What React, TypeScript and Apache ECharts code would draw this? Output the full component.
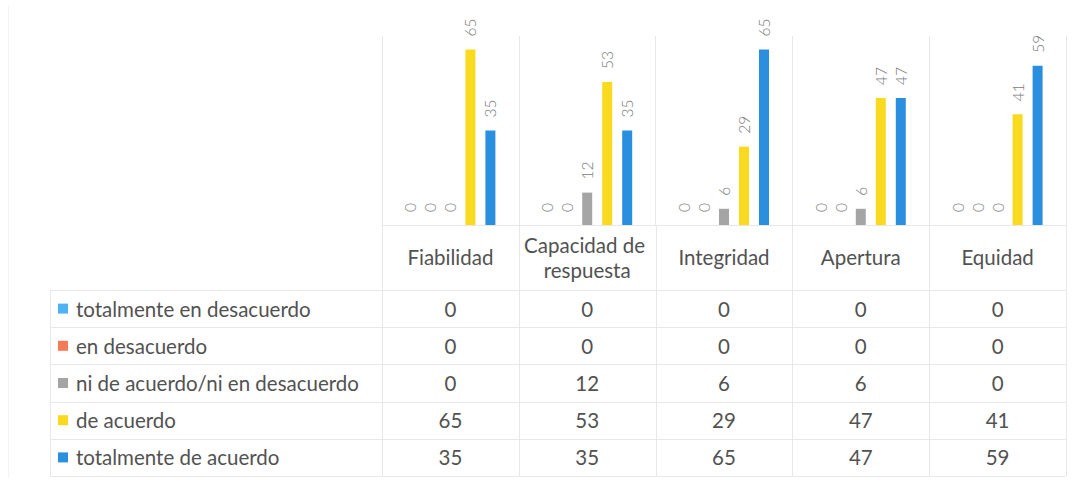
import React, { useEffect, useRef } from "react";
import * as echarts from "echarts";

const categories = ["Fiabilidad", "Capacidad de respuesta", "Integridad", "Apertura", "Equidad"];
const seriesNames = [
  "totalmente en desacuerdo",
  "en desacuerdo",
  "ni de acuerdo/ni en desacuerdo",
  "de acuerdo",
  "totalmente de acuerdo",
];
const totalmenteEnDesacuerdo = [0, 0, 0, 0, 0];
const enDesacuerdo = [0, 0, 0, 0, 0];
const niDeAcuerdoNiEnDesacuerdo = [0, 12, 6, 6, 0];
const deAcuerdo = [65, 53, 29, 47, 41];
const totalmenteDeAcuerdo = [35, 35, 65, 47, 59];
const seriesValues = [
  totalmenteEnDesacuerdo,
  enDesacuerdo,
  niDeAcuerdoNiEnDesacuerdo,
  deAcuerdo,
  totalmenteDeAcuerdo,
];
const seriesColors = ["#4DB3F2", "#F47B57", "#A5A5A5", "#F9DA1E", "#2B8FE0"];

const FONT = "Lato, 'Open Sans', sans-serif";
const TEXT = "#525252";
const LINE = "#e8e8e8";

const GRID_LEFT = 382;
const GRID_RIGHT_X = 1066;
const BASE_Y = 225;
const HEADER_BOTTOM = 290;
const ROW_H = 37.2;
const TABLE_LEFT = 50;

export default function App() {
  const ref = useRef<HTMLDivElement>(null);
  useEffect(() => {
    if (!ref.current) return;
    const chart = echarts.init(ref.current, null, { renderer: "svg" });
    chart.setOption({
      animation: false,
      backgroundColor: "#ffffff",
      grid: { left: GRID_LEFT, right: 1078 - GRID_RIGHT_X, top: 36, bottom: 483 - BASE_Y },
      xAxis: {
        type: "category",
        data: categories,
        axisLine: { show: true, lineStyle: { color: LINE } },
        axisTick: { show: false },
        splitLine: { show: true, lineStyle: { color: LINE } },
        axisLabel: {
          show: true,
          interval: 0,
          fontFamily: FONT,
          fontSize: 20.5,
          color: TEXT,
          width: 130,
          overflow: "break",
          lineHeight: 25,
          verticalAlign: "middle",
          margin: 32,
        },
      },
      yAxis: {
        type: "value",
        min: 0,
        max: 70,
        show: false,
        splitLine: { show: false },
      },
      series: seriesNames.map((name, i) => ({
        name,
        type: "bar",
        data: seriesValues[i],
        barWidth: 10,
        barGap: "100%",
        itemStyle: { color: seriesColors[i] },
        label: {
          show: true,
          position: "top",
          rotate: 90,
          align: "left",
          verticalAlign: "middle",
          distance: 13,
          fontFamily: FONT,
          fontWeight: 300,
          fontSize: 15.5,
          color: "#7a7a7a",
        },
      })),
    });

    const xs = categories.map((_, i) => chart.convertToPixel({ xAxisIndex: 0 }, i) as number);
    const colW = (GRID_RIGHT_X - GRID_LEFT) / categories.length;
    const graphics: any[] = [];
    for (let i = 0; i <= categories.length; i++) {
      const x = Math.round(GRID_LEFT + i * colW) + 0.5;
      graphics.push({
        type: "line",
        shape: { x1: x, y1: BASE_Y, x2: x, y2: HEADER_BOTTOM + ROW_H * seriesNames.length },
        style: { stroke: LINE, lineWidth: 1 },
        silent: true,
      });
    }
    graphics.push({
      type: "line",
      shape: { x1: TABLE_LEFT + 0.5, y1: HEADER_BOTTOM, x2: TABLE_LEFT + 0.5, y2: HEADER_BOTTOM + ROW_H * seriesNames.length },
      style: { stroke: LINE, lineWidth: 1 },
      silent: true,
    });
    graphics.push({
      type: "line",
      shape: { x1: 8.5, y1: 6, x2: 8.5, y2: 478 },
      style: { stroke: "#f3f3f3", lineWidth: 1 },
      silent: true,
    });
    for (let r = 0; r <= seriesNames.length; r++) {
      const y = Math.round(HEADER_BOTTOM + r * ROW_H) + 0.5;
      graphics.push({
        type: "line",
        shape: { x1: TABLE_LEFT, y1: y, x2: GRID_RIGHT_X, y2: y },
        style: { stroke: LINE, lineWidth: 1 },
        silent: true,
      });
    }
    seriesNames.forEach((name, r) => {
      const cy = HEADER_BOTTOM + (r + 0.5) * ROW_H;
      graphics.push({
        type: "rect",
        shape: { x: 58, y: cy - 5, width: 10, height: 10 },
        style: { fill: seriesColors[r] },
        silent: true,
      });
      graphics.push({
        type: "text",
        x: 76,
        y: cy,
        style: {
          text: name,
          fontFamily: FONT,
          fontSize: 20.5,
          fill: TEXT,
          align: "left",
          verticalAlign: "middle",
        },
        silent: true,
      });
      seriesValues[r].forEach((v, c) => {
        graphics.push({
          type: "text",
          x: xs[c],
          y: cy,
          style: {
            text: String(v),
            fontFamily: FONT,
            fontSize: 20.5,
            fill: TEXT,
            align: "center",
            verticalAlign: "middle",
          },
          silent: true,
        });
      });
    });
    chart.setOption({ graphic: graphics });
    return () => chart.dispose();
  }, []);
  return (
    <div
      ref={ref}
      style={{ position: "absolute", left: 0, top: 0, width: 1078, height: 483 }}
    />
  );
}
